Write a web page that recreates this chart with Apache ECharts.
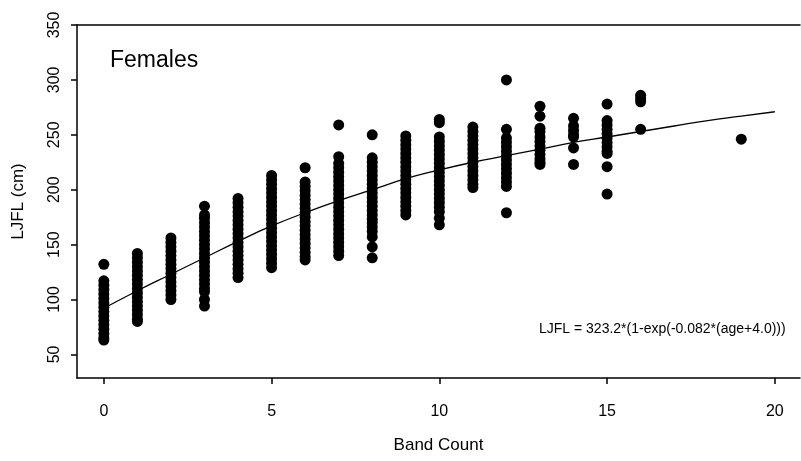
<!DOCTYPE html>
<html>
<head>
<meta charset="utf-8">
<script src="https://cdn.jsdelivr.net/npm/echarts@6/dist/echarts.min.js"></script>
<style>
html,body{margin:0;padding:0;background:#fff;}
#chart{width:801px;height:461px;}
</style>
</head>
<body>
<div id="chart"></div>
<script>
// ---- data ----
const xTicks = [0, 5, 10, 15, 20];
const yTicks = [50, 100, 150, 200, 250, 300, 350];

const band0  = [132, 117, 113, 109, 105, 101, 97, 93, 89, 85, 81, 77, 73, 69, 65, 63];
const band1  = [142, 138, 134, 130, 126, 122, 118, 114, 110, 106, 102, 98, 94, 90, 86, 82, 80];
const band2  = [156, 152, 148, 144, 140, 136, 132, 128, 124, 120, 116, 112, 108, 104, 100];
const band3  = [185, 177, 174, 170, 166, 162, 158, 154, 150, 146, 142, 138, 134, 130, 126, 122, 118, 114, 110, 107, 100, 94];
const band4  = [192, 188, 184, 180, 176, 172, 168, 164, 160, 156, 152, 148, 144, 140, 136, 132, 128, 124, 120];
const band5  = [213, 209, 205, 201, 197, 193, 189, 185, 181, 177, 173, 169, 165, 161, 157, 153, 149, 145, 141, 137, 133, 129];
const band6  = [220, 207, 203, 199, 195, 191, 187, 183, 179, 175, 171, 167, 163, 159, 155, 151, 147, 143, 139, 136];
const band7  = [259, 230, 224, 220, 216, 212, 208, 204, 200, 196, 192, 188, 184, 180, 176, 172, 168, 164, 160, 156, 152, 148, 144, 140];
const band8  = [250, 229, 225, 221, 217, 213, 209, 205, 201, 197, 193, 189, 185, 181, 177, 173, 170, 166, 162, 157, 148, 138];
const band9  = [249, 245, 241, 237, 233, 229, 225, 221, 217, 213, 209, 205, 201, 197, 193, 189, 185, 181, 177];
const band10 = [264, 261, 248, 244, 240, 236, 232, 228, 224, 220, 216, 212, 208, 204, 200, 196, 192, 188, 184, 180, 174, 168];
const band11 = [257, 253, 249, 245, 241, 237, 233, 229, 225, 221, 217, 213, 209, 205, 202];
const band12 = [300, 255, 247, 243, 239, 235, 231, 227, 223, 219, 215, 211, 207, 203, 179];
const band13 = [276, 267, 256, 253, 248, 244, 240, 236, 232, 228, 225, 223];
const band14 = [265, 258, 254, 250, 248, 238, 223];
const band15 = [278, 263, 259, 255, 251, 247, 243, 239, 235, 233, 221, 196];
const band16 = [286, 283, 280, 255];
const band19 = [246];

const bandCounts = [0, 1, 2, 3, 4, 5, 6, 7, 8, 9, 10, 11, 12, 13, 14, 15, 16, 19];
const bandValues = [band0, band1, band2, band3, band4, band5, band6, band7, band8, band9,
                    band10, band11, band12, band13, band14, band15, band16, band19];

// fitted curve
const curveX = [0, 1, 2, 3, 4, 5, 6, 7, 8, 9, 10, 11, 12, 13, 14, 15, 16, 17, 18, 19, 20];
const curveY = [92, 108, 123, 138, 153, 167, 179, 190, 200, 210, 218, 225, 231, 237, 243, 248, 253, 258, 263, 267, 271];

const titleText = 'Females';
const equationText = 'LJFL = 323.2*(1-exp(-0.082*(age+4.0)))';

// ---- build series data ----
const scatterData = [];
bandCounts.forEach((b, i) => {
  bandValues[i].forEach(v => scatterData.push([b, v]));
});
const lineData = curveX.map((x, i) => [x, curveY[i]]);

const FONT = 'Liberation Sans, Arial, Helvetica, sans-serif';
const chart = echarts.init(document.getElementById('chart'), null, {renderer: 'canvas'});
chart.setOption({
  animation: false,
  backgroundColor: '#ffffff',
  grid: {left: 77, right: 1, top: 25, bottom: 83, containLabel: false},
  xAxis: [{
    type: 'value',
    min: -0.8, max: 20.75,
    name: 'Band Count',
    nameLocation: 'middle',
    nameGap: 59,
    nameTextStyle: {fontFamily: FONT, fontSize: 17, color: '#000'},
    splitLine: {show: false},
    axisLine: {show: true, onZero: false, lineStyle: {color: '#000', width: 1.5}},
    axisTick: {show: true, length: 6, lineStyle: {color: '#000', width: 1.5}, customValues: xTicks},
    axisLabel: {fontFamily: FONT, fontSize: 16, color: '#000', margin: 26, customValues: xTicks}
  }, {
    type: 'value',
    position: 'top',
    min: -0.8, max: 20.75,
    splitLine: {show: false},
    axisLine: {show: true, onZero: false, lineStyle: {color: '#000', width: 1.5}},
    axisTick: {show: false},
    axisLabel: {show: false}
  }],
  yAxis: {
    type: 'value',
    min: 28.5, max: 350,
    name: 'LJFL (cm)',
    nameLocation: 'middle',
    nameRotate: 90,
    nameGap: 50,
    nameTextStyle: {fontFamily: FONT, fontSize: 17, color: '#000'},
    splitLine: {show: false},
    axisLine: {show: true, onZero: false, lineStyle: {color: '#000', width: 1.5}},
    axisTick: {show: true, length: 6, lineStyle: {color: '#000', width: 1.5}, customValues: yTicks},
    axisLabel: {fontFamily: FONT, fontSize: 16, color: '#000', rotate: 90, margin: 14, customValues: yTicks}
  },
  series: [{
    type: 'scatter',
    data: scatterData,
    symbol: 'circle',
    symbolSize: 11,
    itemStyle: {color: '#000', opacity: 1},
    silent: true
  }, {
    type: 'line',
    data: lineData,
    smooth: true,
    showSymbol: false,
    lineStyle: {color: '#000', width: 1.3},
    z: 3,
    silent: true
  }],
  graphic: [{
    type: 'text',
    left: 110, top: 49,
    style: {text: titleText, font: '23px ' + FONT, fill: '#000'}
  }, {
    type: 'text',
    left: 539, top: 322,
    style: {text: equationText, font: '14px ' + FONT, fill: '#000'}
  }]
});
</script>
</body>
</html>
